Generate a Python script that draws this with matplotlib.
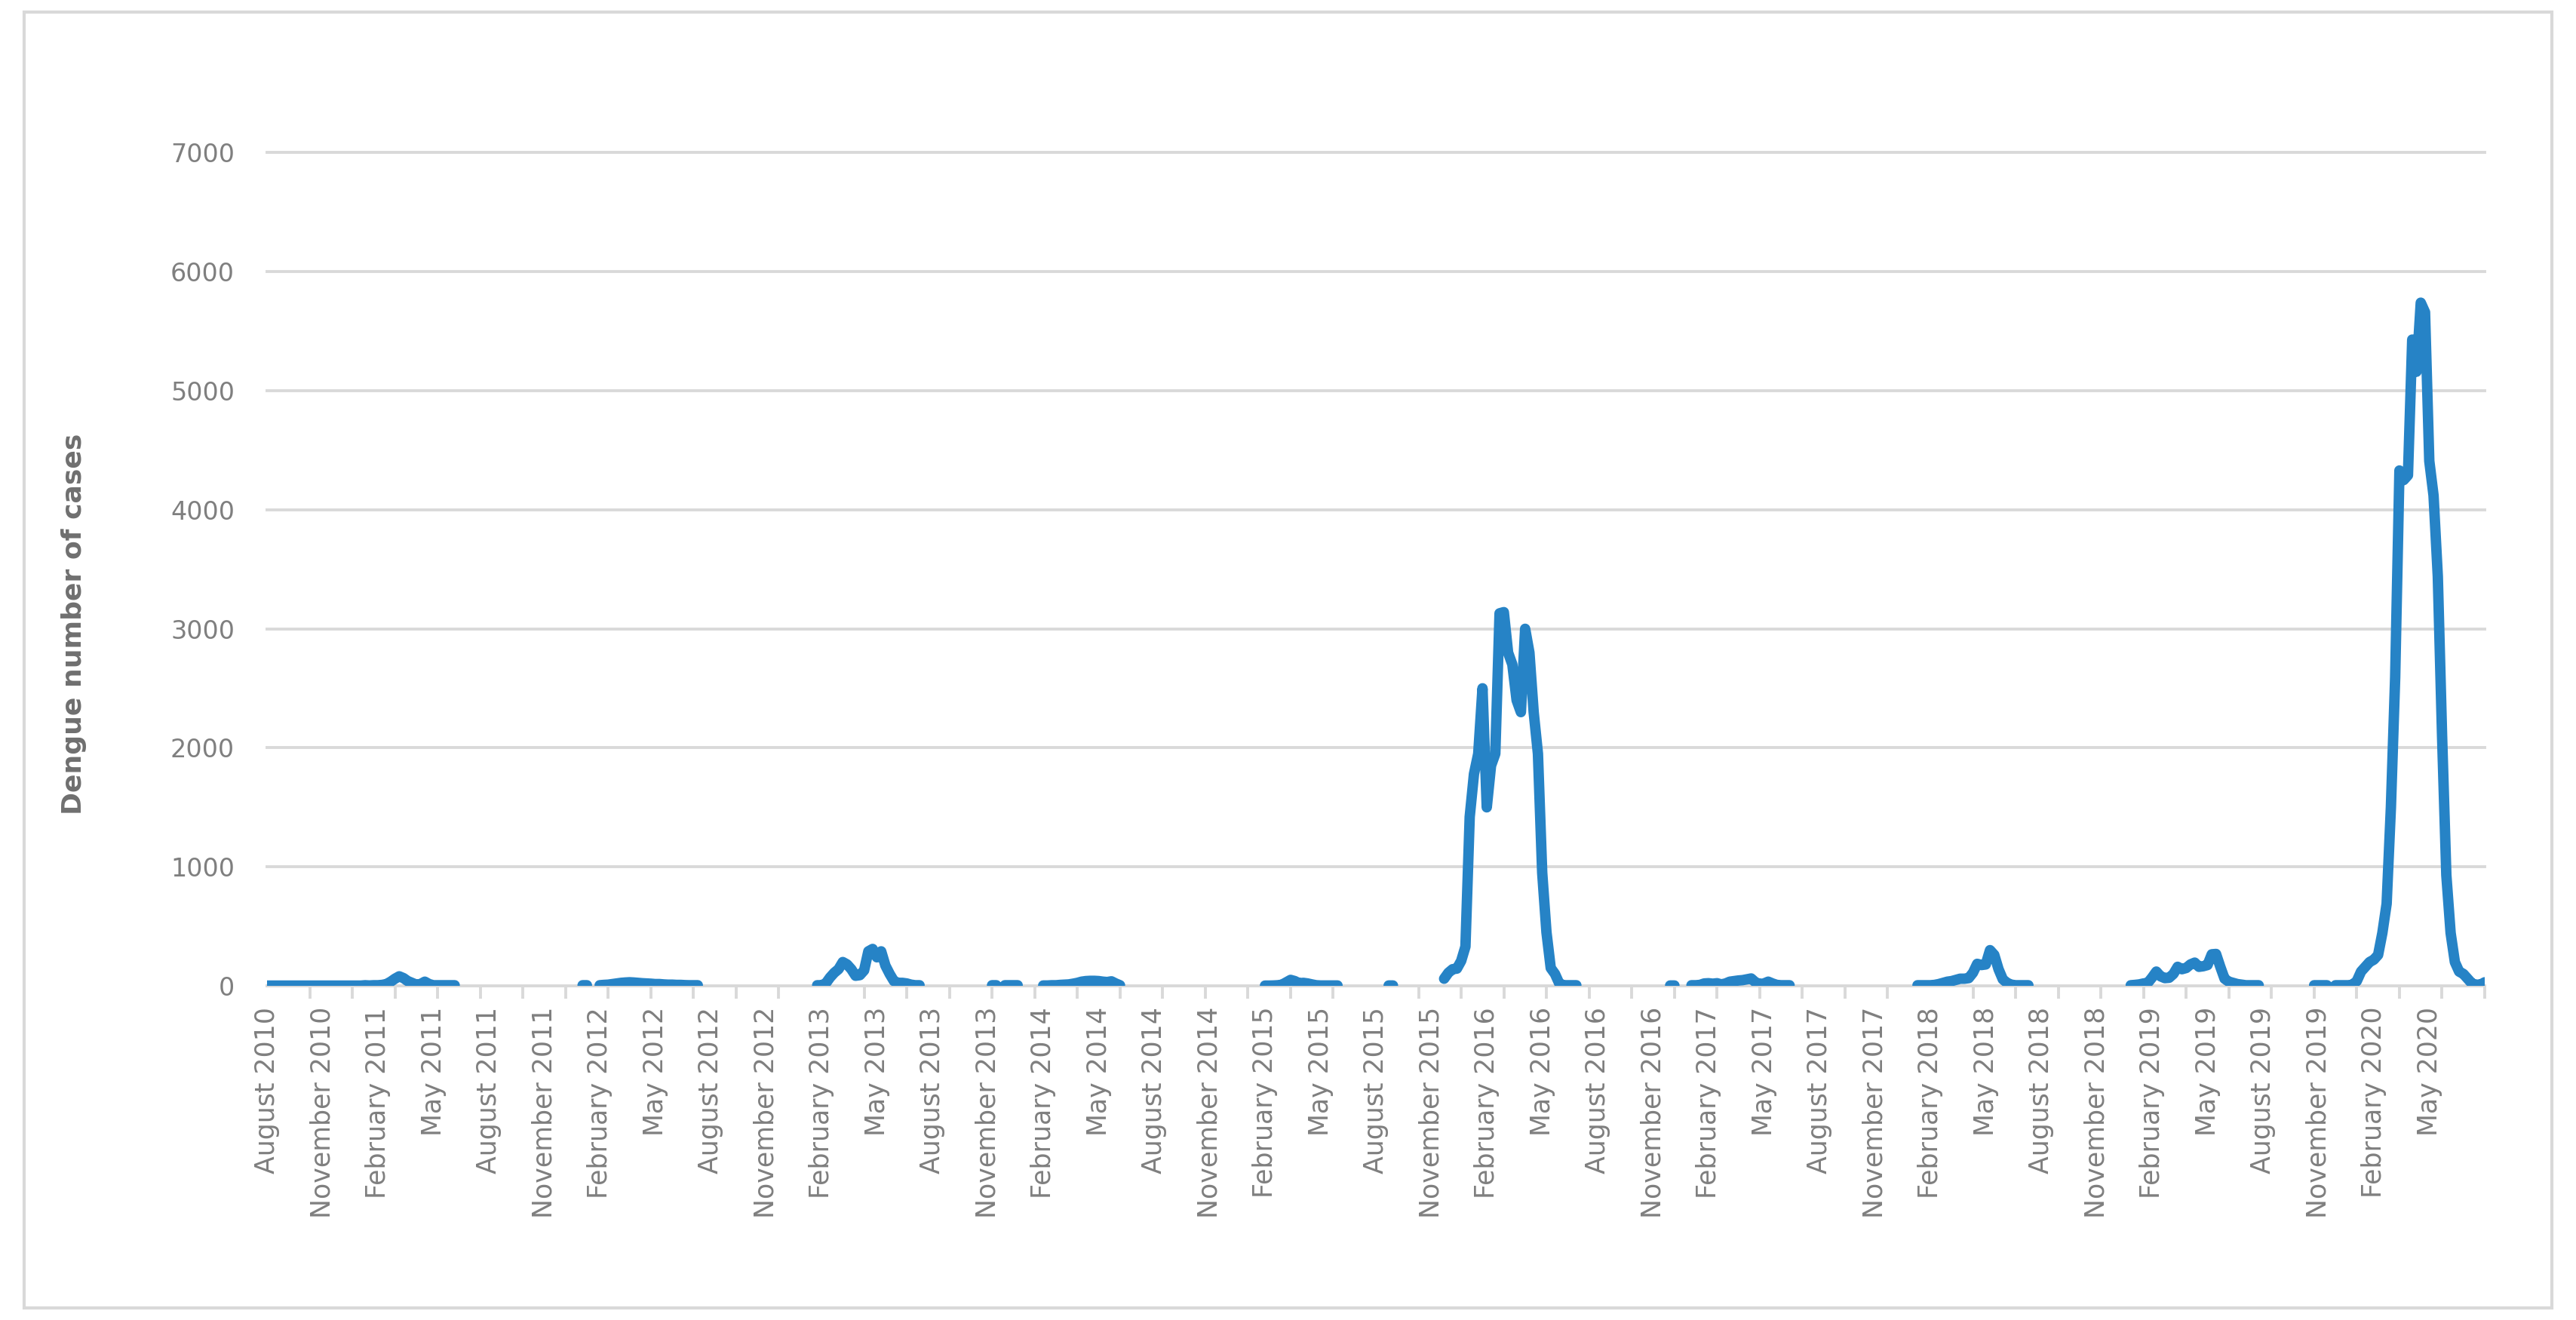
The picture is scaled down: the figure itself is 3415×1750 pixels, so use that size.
import numpy as np
import matplotlib
matplotlib.use('Agg')
import matplotlib.pyplot as plt
from matplotlib.patches import Rectangle

# weekly dengue cases, one list per stretch of reported weeks (start week, values)
# week 0 = first week of August 2010, missing weeks are left empty
s2010_start = 0
s2010 = [2, 2, 2, 2, 2, 2, 2, 2, 2, 2, 2, 2, 2, 2, 2, 2, 2, 2, 2, 2, 2, 2, 2,
         5, 3, 5, 5, 8, 15, 35, 60, 80, 65, 40, 25, 10, 15, 35, 15, 5, 5, 5, 5, 5, 5]
s2011a_start = 74
s2011a = [5, 5]
s2011b_start = 78
s2011b = [5, 8, 10, 15, 20, 25, 28, 30, 28, 25, 22, 20, 18, 15, 15, 12, 10, 10, 8, 8, 6, 5, 5, 5]
s2013_start = 129
s2013 = [5, 5, 20, 70, 110, 140, 200, 180, 140, 85, 90, 130, 290, 310, 240, 290, 170, 100,
         40, 25, 25, 20, 10, 5, 5]
s2013b_start = 170
s2013b = [5, 5]
s2013c_start = 173
s2013c = [5, 5, 5, 5]
s2014_start = 182
s2014 = [3, 3, 5, 5, 8, 10, 12, 18, 25, 35, 40, 42, 42, 40, 35, 32, 38, 20, 5]
s2015_start = 234
s2015 = [2, 2, 3, 5, 10, 30, 50, 40, 22, 25, 20, 12, 5, 3, 3, 3, 3, 3]
s2015b_start = 263
s2015b = [3, 3]
s2016_start = 276
s2016 = [60, 110, 140, 145, 210, 330, 1420, 1780, 1950, 2500, 1500, 1850, 1950, 3130, 3140,
         2800, 2700, 2400, 2300, 3000, 2800, 2300, 1950, 950, 450, 150, 100, 20, 5, 5, 5, 5]
s2016b_start = 329
s2016b = [3, 3]
s2017_start = 334
s2017 = [5, 5, 8, 20, 22, 18, 22, 12, 20, 35, 40, 45, 48, 55, 62, 30, 15, 20, 35, 20, 8, 5, 5, 5]
s2018_start = 387
s2018 = [5, 5, 5, 5, 8, 15, 25, 35, 40, 50, 60, 60, 65, 110, 185, 175, 180, 300, 260, 140,
         55, 25, 10, 5, 5, 5, 5]
s2019_start = 437
s2019 = [5, 8, 12, 20, 25, 70, 120, 80, 65, 68, 100, 160, 140, 150, 180, 195, 160, 165, 175,
         265, 268, 160, 60, 35, 25, 15, 10, 5, 5, 5, 5]
s2019b_start = 480
s2019b = [5, 5, 5, 5]
s2020_start = 485
s2020 = [5, 5, 5, 5, 10, 40, 120, 160, 200, 220, 260, 445, 690, 1500, 2590, 4330, 4250, 4290,
         5430, 5160, 5740, 5660, 4410, 4120, 3440, 2100, 930, 445, 200, 120, 100, 60, 20, 10, 10, 30]

n_weeks = 521
month_names = ['August', 'November', 'February', 'May']
first_year = 2010
n_labels = 40

segments = [(s2010_start, s2010), (s2011a_start, s2011a), (s2011b_start, s2011b),
            (s2013_start, s2013), (s2013b_start, s2013b), (s2013c_start, s2013c),
            (s2014_start, s2014), (s2015_start, s2015), (s2015b_start, s2015b),
            (s2016_start, s2016), (s2016b_start, s2016b), (s2017_start, s2017),
            (s2018_start, s2018), (s2019_start, s2019), (s2019b_start, s2019b),
            (s2020_start, s2020)]

cases = np.full(n_weeks, np.nan)
for start, vals in segments:
    cases[start:start + len(vals)] = vals
weeks = np.arange(n_weeks)

# a label every 13 weeks: Aug/Nov of year y, then Feb/May of y+1
labels = []
for k in range(n_labels):
    yr = first_year + (k + 2) // 4
    labels.append(month_names[k % 4] + ' ' + str(yr))

grey = '#d9d9d9'
txt = '#7f7f7f'
blue = '#2683c6'

fig = plt.figure(figsize=(34.15, 17.5), dpi=100)
ax = fig.add_axes([354 / 3415, 1 - 1307 / 1750, (3294 - 354) / 3415, (1307 - 202.5) / 1750])

ax.plot(weeks, cases, color=blue, lw=10, solid_capstyle='round', solid_joinstyle='round', zorder=3)

ax.set_xlim(0, n_weeks - 1)
ax.set_ylim(0, 7000)
ax.set_yticks(np.arange(0, 8000, 1000))
ax.set_xticks(np.arange(n_labels) * 13)
ax.set_xticklabels(labels, rotation=90, ha='center', va='top')
ax.set_xticks(np.arange(0, n_weeks, 10), minor=True)

ax.tick_params(axis='x', which='major', length=0, pad=20, labelsize=25, labelcolor=txt)
ax.tick_params(axis='x', which='minor', length=12, width=2.8, color=grey)
ax.tick_params(axis='y', length=0, pad=31, labelsize=24, labelcolor=txt)

ax.yaxis.grid(True, color=grey, lw=2.8)
for gl in ax.get_ygridlines():
    gl.set_clip_on(False)
ax.set_axisbelow(True)
for sp in ['left', 'right', 'top']:
    ax.spines[sp].set_visible(False)
ax.spines['bottom'].set_color(grey)
ax.spines['bottom'].set_linewidth(2.8)

fig.text(98 / 3415, 1 - 827 / 1750, 'Dengue number of cases', rotation=90, ha='center', va='center',
         fontsize=26, fontweight='bold', color='#6f6f6f')

fig.patches.append(Rectangle((32 / 3415, 16 / 1750), (3383 - 32) / 3415, (1734 - 16) / 1750,
                             transform=fig.transFigure, fill=False, ec=grey, lw=3))

fig.savefig('out.png', dpi=100, facecolor='white')
